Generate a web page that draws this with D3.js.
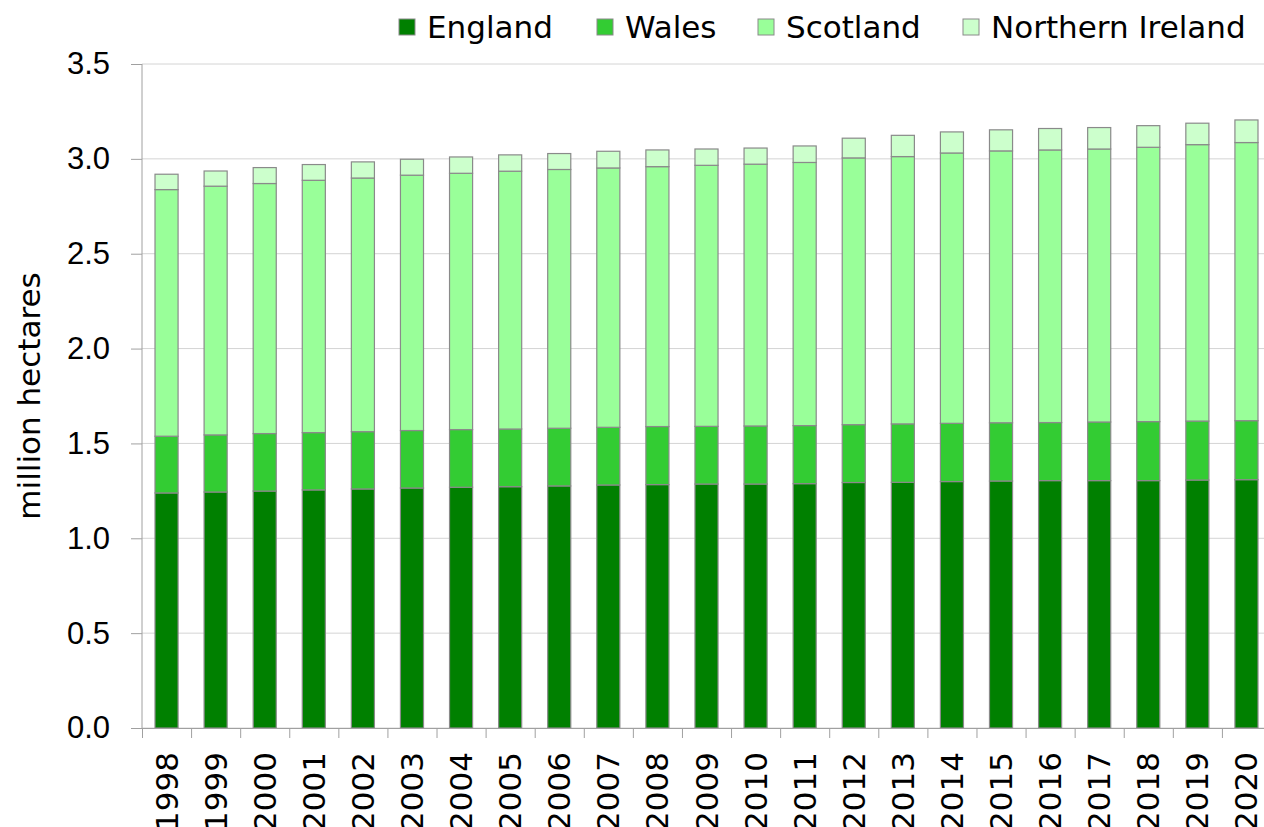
<!DOCTYPE html>
<html>
<head>
<meta charset="utf-8">
<script src="https://cdnjs.cloudflare.com/ajax/libs/d3/7.8.5/d3.min.js"></script>
<style>
  body { margin: 0; background: #fff; overflow: hidden; }
  svg { display: block; font-family: "DejaVu Sans", Verdana, sans-serif; }
</style>
</head>
<body>
<div id="chart"></div>
<script>
// Data (million hectares)
const years = ["1998", "1999", "2000", "2001", "2002", "2003", "2004", "2005", "2006", "2007", "2008",
               "2009", "2010", "2011", "2012", "2013", "2014", "2015", "2016", "2017", "2018", "2019", "2020"];
const england = [1.239, 1.244, 1.249, 1.255, 1.260, 1.265, 1.269, 1.272, 1.276, 1.281, 1.283,
                 1.286, 1.286, 1.288, 1.294, 1.295, 1.299, 1.302, 1.304, 1.304, 1.304, 1.307, 1.309];
const wales = [0.299, 0.301, 0.303, 0.302, 0.302, 0.303, 0.304, 0.304, 0.304, 0.304, 0.306,
               0.304, 0.306, 0.306, 0.305, 0.308, 0.307, 0.307, 0.306, 0.309, 0.311, 0.311, 0.311];
const scotland = [1.300, 1.311, 1.318, 1.330, 1.337, 1.346, 1.351, 1.359, 1.364, 1.367, 1.370,
                  1.376, 1.380, 1.387, 1.406, 1.409, 1.425, 1.433, 1.437, 1.439, 1.446, 1.457, 1.466];
const northernIreland = [0.081, 0.080, 0.084, 0.083, 0.085, 0.084, 0.086, 0.086, 0.084, 0.088, 0.088,
                         0.086, 0.085, 0.087, 0.104, 0.112, 0.111, 0.111, 0.113, 0.113, 0.114, 0.113, 0.119];
const countries = ["England", "Wales", "Scotland", "Northern Ireland"];
const yTicks = [0, 0.5, 1.0, 1.5, 2.0, 2.5, 3.0, 3.5];

const width = 1264, height = 827;
const margin = { top: 64, bottom: 99, left: 142, right: -7 };

const svg = d3.select('#chart')
  .append('svg')
  .attr('width', width)
  .attr('height', height);

// build rows for the stack
const series = [england, wales, scotland, northernIreland];
const rows = years.map((y, i) => {
  const r = { year: y };
  countries.forEach((c, k) => { r[c] = series[k][i]; });
  return r;
});
const stacked = d3.stack().keys(countries)(rows);

const x = d3.scaleBand()
  .domain(years)
  .range([margin.left, width - margin.right])
  .padding(0);

const xIdx = d3.scaleLinear()
  .domain([0, years.length])
  .range([margin.left, width - margin.right]);

const y = d3.scaleLinear()
  .domain([0, 3.5])
  .range([height - margin.bottom, margin.top]);

const color = d3.scaleOrdinal()
  .domain(countries)
  .range(["#008000", "#33cc33", "#99ff99", "#ccffcc"]);

// gridlines
svg.append('g')
  .selectAll('line')
  .data(yTicks)
  .join('line')
  .attr('x1', margin.left)
  .attr('x2', width)
  .attr('y1', d => y(d))
  .attr('y2', d => y(d))
  .attr('stroke', '#d4d4d4')
  .attr('stroke-width', 1);

// bars
const barW = x.bandwidth() * 0.47;
svg.append('g')
  .selectAll('g')
  .data(stacked)
  .join('g')
  .attr('fill', d => color(d.key))
  .selectAll('rect')
  .data(d => d)
  .join('rect')
  .attr('x', d => x(d.data.year) + (x.bandwidth() - barW) / 2)
  .attr('y', d => y(d[1]))
  .attr('width', barW)
  .attr('height', d => y(d[0]) - y(d[1]))
  .attr('stroke', '#8a8a8a')
  .attr('stroke-width', 1.2);

// y axis
const yAxis = svg.append('g')
  .attr('transform', `translate(${margin.left},0)`)
  .call(d3.axisLeft(y).tickValues(yTicks).tickFormat(d3.format('.1f')).tickSize(11).tickPadding(21));
yAxis.selectAll('line, path').attr('stroke', '#a0a0a0');
yAxis.select('.domain').attr('d', `M0,${y(3.5)}V${y(0)}`);
yAxis.selectAll('text').attr('font-size', 31).attr('fill', '#000').attr('font-family', null);

// x axis: ticks at category boundaries
const xAxis = svg.append('g')
  .attr('transform', `translate(0,${height - margin.bottom})`)
  .call(d3.axisBottom(xIdx).ticks(years.length).tickValues(d3.range(0, years.length + 1)).tickFormat('').tickSize(10).tickSizeOuter(0));
xAxis.selectAll('line, path').attr('stroke', '#a0a0a0');

// x labels
svg.append('g')
  .selectAll('text')
  .data(years)
  .join('text')
  .attr('transform', d => `translate(${x(d) + x.bandwidth() / 2 + 11},${height - margin.bottom + 24}) rotate(-90)`)
  .attr('text-anchor', 'end')
  .attr('font-size', 31)
  .text(d => d);

// y axis label
svg.append('text')
  .attr('transform', `translate(40,${(y(0) + y(3.5)) / 2}) rotate(-90)`)
  .attr('text-anchor', 'middle')
  .attr('font-size', 31)
  .text('million hectares');

// legend
const legendX = [399, 597, 758, 963];
const legend = svg.append('g');
countries.forEach((c, i) => {
  legend.append('rect')
    .attr('x', legendX[i])
    .attr('y', 19)
    .attr('width', 16)
    .attr('height', 16)
    .attr('fill', color(c))
    .attr('stroke', '#8a8a8a')
    .attr('stroke-width', 1);
  legend.append('text')
    .attr('x', legendX[i] + 28)
    .attr('y', 38)
    .attr('font-size', 31)
    .text(c);
});
</script>
</body>
</html>
